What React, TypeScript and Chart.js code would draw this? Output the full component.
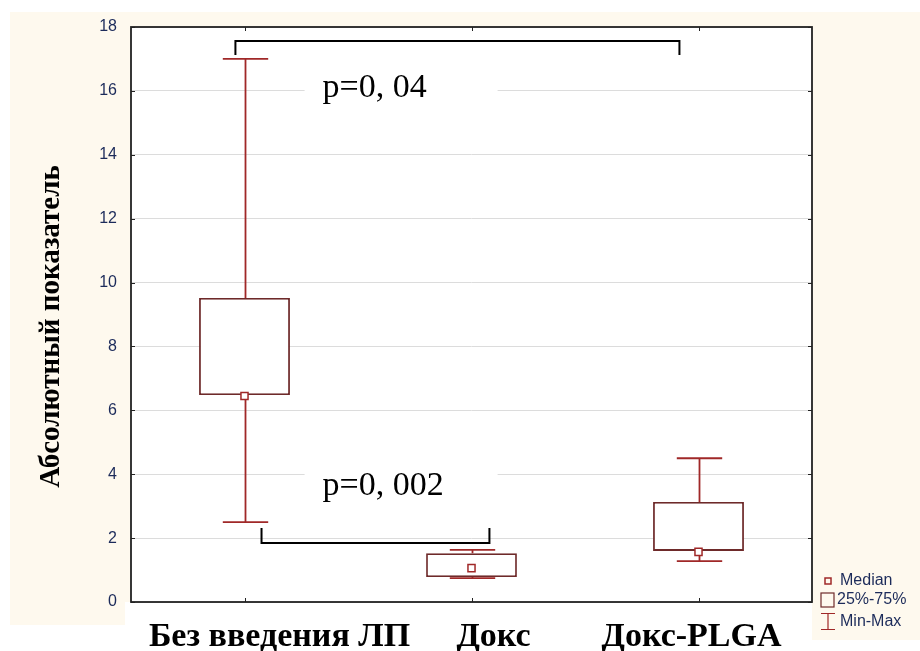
import React, { useEffect, useRef } from "react";
import { Chart, registerables } from "chart.js";

Chart.register(...registerables);

const categories = ["Без введения ЛП", "Докс", "Докс-PLGA"];
const minVals = [2.5, 0.75, 1.28];
const q1Vals = [6.48, 0.78, 1.6];
const medianVals = [6.45, 1.06, 1.57];
const q3Vals = [9.52, 1.53, 3.13];
const maxVals = [17, 1.63, 4.5];

const yMin = 0;
const yMax = 18;
const yStep = 2;

const bracketFrom = [-0.04, 0.075];
const bracketTo = [1.916, 1.079];
const bracketLineY = [17.56, 1.85];
const bracketEndY = [17.12, 2.32];

const pLabels = ["p=0, 04", "p=0, 002"];
const pX = [0.344, 0.344];
const pY = [15.81, 3.35];

const legendLabels = ["Median", "25%-75%", "Min-Max"];
const yTitle = "Абсолютный показатель";

// style constants
const W = 920;
const H = 651;
const CREAM = "#fef9ee";
const WHISKER = "#a02828";
const BOXC = "#6e2a2a";
const NAVY = "#1c2b5a";
const labelOffsets = [35, 22, -7];

const bgPlugin = {
  id: "bg",
  beforeDraw(chart: any) {
    const { ctx, chartArea } = chart;
    ctx.save();
    ctx.fillStyle = "#ffffff";
    ctx.fillRect(0, 0, W, H);
    ctx.fillStyle = CREAM;
    ctx.fillRect(10, 12, W - 10, 628);
    ctx.fillStyle = "#ffffff";
    ctx.fillRect(125, chartArea.bottom, chartArea.right - 125, H - chartArea.bottom);
    ctx.fillRect(10, 625, 115, H - 625);
    ctx.fillRect(chartArea.left, chartArea.top, chartArea.right - chartArea.left, chartArea.bottom - chartArea.top);
    ctx.restore();
  },
};

const boxPlugin = {
  id: "boxextras",
  beforeDatasetsDraw(chart: any) {
    const { ctx, scales } = chart;
    const x = scales.x;
    const y = scales.y;
    const band = x.getPixelForValue(1) - x.getPixelForValue(0);
    const capHalf = band * 0.1;
    ctx.save();
    ctx.strokeStyle = WHISKER;
    ctx.lineWidth = 1.8;
    for (let i = 0; i < categories.length; i++) {
      const cx = Math.round(x.getPixelForValue(i)) + 0.5;
      const yMinP = y.getPixelForValue(minVals[i]);
      const yMaxP = y.getPixelForValue(maxVals[i]);
      const yQ1 = y.getPixelForValue(q1Vals[i]);
      const yQ3 = y.getPixelForValue(q3Vals[i]);
      ctx.beginPath();
      ctx.moveTo(cx, yMinP);
      ctx.lineTo(cx, yQ1);
      ctx.moveTo(cx, yQ3);
      ctx.lineTo(cx, yMaxP);
      ctx.moveTo(cx - capHalf, yMinP);
      ctx.lineTo(cx + capHalf, yMinP);
      ctx.moveTo(cx - capHalf, yMaxP);
      ctx.lineTo(cx + capHalf, yMaxP);
      ctx.stroke();
    }
    ctx.restore();
  },
  afterDatasetsDraw(chart: any) {
    const { ctx, scales } = chart;
    const x = scales.x;
    const y = scales.y;
    ctx.save();
    ctx.font = "34px 'Liberation Serif', 'Times New Roman', serif";
    ctx.textBaseline = "alphabetic";
    ctx.textAlign = "left";
    for (let i = 0; i < pLabels.length; i++) {
      const px = x.getPixelForValue(pX[i]);
      const py = y.getPixelForValue(pY[i]);
      ctx.fillStyle = "#ffffff";
      ctx.fillRect(px - 18, py - 34, 193, 44);
      ctx.fillStyle = "#000000";
      ctx.fillText(pLabels[i], px, py);
    }
    ctx.strokeStyle = "#000000";
    ctx.lineWidth = 2;
    for (let i = 0; i < bracketFrom.length; i++) {
      const x1 = x.getPixelForValue(bracketFrom[i]);
      const x2 = x.getPixelForValue(bracketTo[i]);
      const yl = y.getPixelForValue(bracketLineY[i]);
      const ye = y.getPixelForValue(bracketEndY[i]);
      ctx.beginPath();
      ctx.moveTo(x1, ye);
      ctx.lineTo(x1, yl);
      ctx.lineTo(x2, yl);
      ctx.lineTo(x2, ye);
      ctx.stroke();
    }
    ctx.restore();
  },
  afterDraw(chart: any) {
    const { ctx, chartArea, scales } = chart;
    const x = scales.x;
    const y = scales.y;
    const { left, right, top, bottom } = chartArea;
    ctx.save();
    ctx.strokeStyle = "#222222";
    ctx.lineWidth = 1.8;
    ctx.strokeRect(left, top, right - left, bottom - top);
    ctx.lineWidth = 1;
    ctx.beginPath();
    for (let v = yMin; v <= yMax; v += yStep) {
      const py = Math.round(y.getPixelForValue(v)) + 0.5;
      ctx.moveTo(left, py);
      ctx.lineTo(left + 4, py);
      ctx.moveTo(right, py);
      ctx.lineTo(right - 4, py);
    }
    for (let i = 0; i < categories.length; i++) {
      const px = Math.round(x.getPixelForValue(i)) + 0.5;
      ctx.moveTo(px, bottom);
      ctx.lineTo(px, bottom - 4);
      ctx.moveTo(px, top);
      ctx.lineTo(px, top + 4);
    }
    ctx.stroke();

    ctx.fillStyle = "#000000";
    ctx.font = "bold 34px 'Liberation Serif', 'Times New Roman', serif";
    ctx.textAlign = "center";
    ctx.textBaseline = "alphabetic";
    for (let i = 0; i < categories.length; i++) {
      ctx.fillText(categories[i], x.getPixelForValue(i) + labelOffsets[i], 646);
    }

    ctx.save();
    ctx.translate(59, (top + bottom) / 2 + 12);
    ctx.rotate(-Math.PI / 2);
    ctx.font = "bold 29px 'Liberation Serif', 'Times New Roman', serif";
    ctx.textAlign = "center";
    ctx.textBaseline = "alphabetic";
    ctx.fillText(yTitle, 0, 0);
    ctx.restore();

    ctx.font = "16px 'Liberation Sans', Arial, sans-serif";
    ctx.textAlign = "left";
    ctx.textBaseline = "middle";
    ctx.fillStyle = NAVY;
    ctx.strokeStyle = WHISKER;
    ctx.lineWidth = 1.5;
    ctx.strokeRect(825, 578, 6, 6);
    ctx.fillText(legendLabels[0], 840, 581);
    ctx.strokeStyle = BOXC;
    ctx.lineWidth = 1.2;
    ctx.strokeRect(821, 593, 13, 14);
    ctx.fillText(legendLabels[1], 837, 600);
    ctx.strokeStyle = WHISKER;
    ctx.beginPath();
    ctx.moveTo(821, 613.5);
    ctx.lineTo(835, 613.5);
    ctx.moveTo(828, 613.5);
    ctx.lineTo(828, 629.5);
    ctx.moveTo(821, 629.5);
    ctx.lineTo(835, 629.5);
    ctx.stroke();
    ctx.fillText(legendLabels[2], 840, 622);
    ctx.restore();
  },
};

export default function App() {
  const canvasRef = useRef<HTMLCanvasElement | null>(null);

  useEffect(() => {
    if (!canvasRef.current) return;
    const boxData = q1Vals.map((q, i) => [q, q3Vals[i]]);
    const chart = new Chart(canvasRef.current, {
      type: "bar",
      data: {
        labels: categories,
        datasets: [
          {
            type: "bar",
            label: "25%-75%",
            data: boxData as any,
            backgroundColor: "#ffffff",
            borderColor: BOXC,
            borderWidth: 1.8,
            borderSkipped: false,
            categoryPercentage: 1,
            barPercentage: 0.4,
            order: 2,
          } as any,
          {
            type: "line",
            label: "Median",
            data: medianVals,
            showLine: false,
            pointStyle: "rect",
            pointRadius: 5,
            pointBorderColor: WHISKER,
            pointBackgroundColor: "#ffffff",
            pointBorderWidth: 1.5,
            order: 1,
          } as any,
        ],
      },
      options: {
        responsive: false,
        animation: false,
        layout: { padding: { left: 0, right: W - 812, top: 27, bottom: 0 } },
        plugins: {
          legend: { display: false },
          tooltip: { enabled: false },
        },
        scales: {
          x: {
            type: "category",
            offset: true,
            grid: { display: false, drawTicks: false },
            border: { display: false },
            ticks: { display: false },
            afterFit: (s: any) => {
              s.height = H - 602;
            },
          } as any,
          y: {
            min: yMin,
            max: yMax,
            grid: { color: "#dcdcdc", drawTicks: false, lineWidth: 1 },
            border: { display: false },
            ticks: {
              stepSize: yStep,
              padding: 14,
              color: NAVY,
              font: { family: "'Liberation Sans', Arial, sans-serif", size: 16 },
            },
            afterFit: (s: any) => {
              s.width = 131;
            },
          } as any,
        },
      },
      plugins: [bgPlugin, boxPlugin],
    });
    return () => chart.destroy();
  }, []);

  return (
    <div style={{ position: "fixed", left: 0, top: 0, width: W, height: H }}>
      <canvas ref={canvasRef} width={W} height={H} style={{ display: "block" }} />
    </div>
  );
}
